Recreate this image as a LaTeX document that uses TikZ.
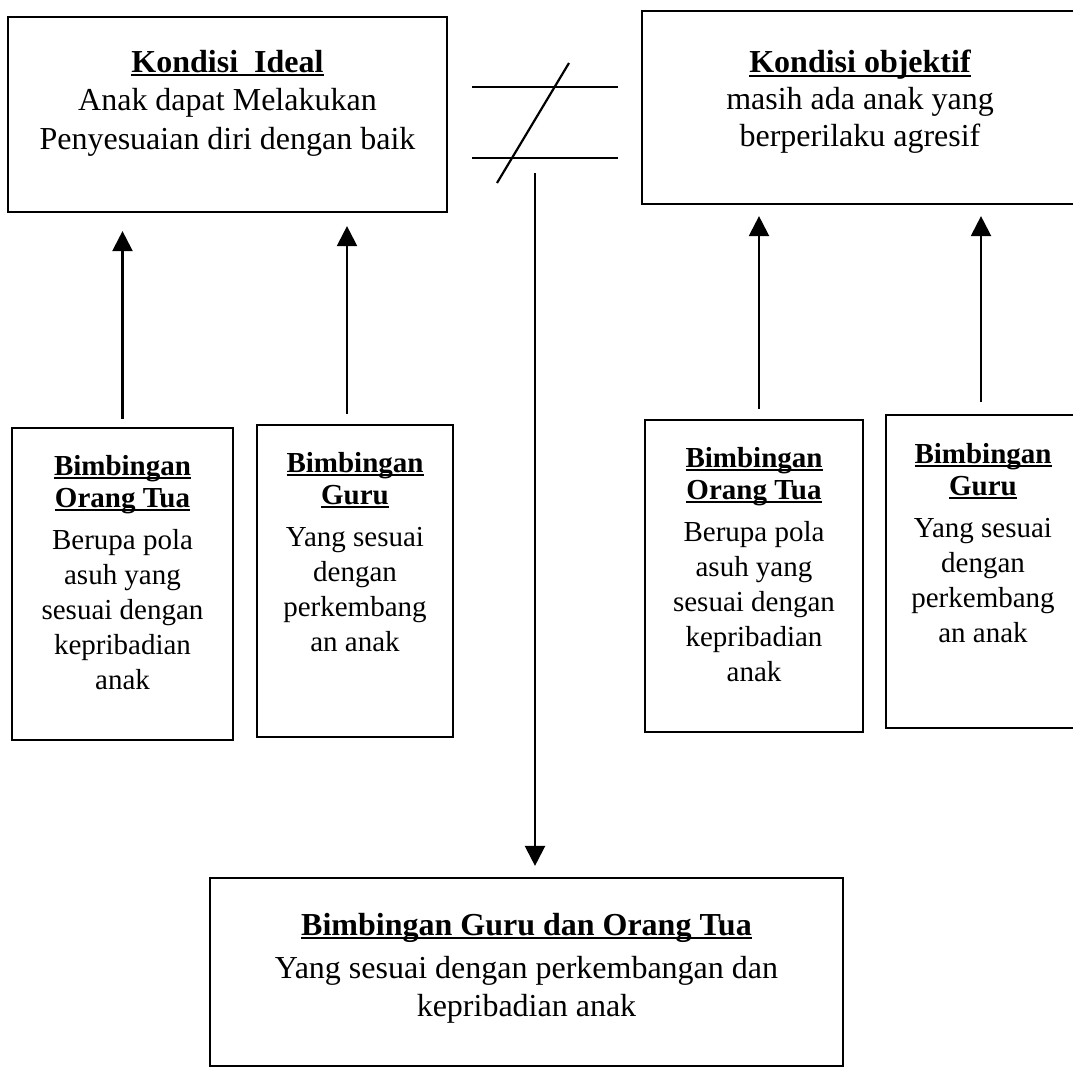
\documentclass[tikz,border=0pt]{standalone}
\usepackage{fontspec}
\setmainfont{Liberation Serif}
\usetikzlibrary{arrows.meta,calc}
\newcommand\myul[1]{\leavevmode\setbox0=\hbox{#1}\rlap{\rule[-0.13em]{\wd0}{0.065em}}\box0}
\begin{document}
\begin{tikzpicture}[x=1pt,y=-1pt,
  bx/.style={draw, line width=2.2pt, inner sep=0pt},
  bigtxt/.style={inner sep=0pt, align=center, anchor=north, font=\fontsize{32}{38.5}\selectfont},
  smalltxt/.style={inner sep=0pt, align=center, anchor=north, font=\fontsize{29}{35}\selectfont},
  arr/.style={line width=2.3pt, -{Triangle[length=20pt,width=20pt]}},
  ln/.style={line width=2.2pt}]
\useasboundingbox (0,0) rectangle (1073,1068);
% boxes
\node[bx, minimum width=439pt, minimum height=195pt] (b1) at (227.5,114.5) {};
\node[bx, minimum width=436pt, minimum height=193pt] (b2) at (860,107.5) {};
\node[bx, minimum width=221pt, minimum height=312pt] (L1) at (122.5,584) {};
\node[bx, minimum width=196pt, minimum height=312pt] (L2) at (355,581) {};
\node[bx, minimum width=218pt, minimum height=312pt] (R1) at (754,576) {};
\node[bx, minimum width=194pt, minimum height=313pt] (R2) at (983,571.5) {};
\node[bx, minimum width=633pt, minimum height=188pt] (bot) at (526.5,972) {};
% texts
\node[bigtxt] (b1t) at ($(b1.north)+(0,34)$) {\textbf{\myul{Kondisi\ \ Ideal}}\\Anak dapat Melakukan\\Penyesuaian diri dengan baik};
\node[bigtxt, font=\fontsize{32}{37}\selectfont] (b2t) at ($(b2.north)+(0,40)$) {\textbf{\myul{Kondisi objektif}}\\masih ada anak yang\\berperilaku agresif};
\node[smalltxt] (L1t) at ($(L1.north)+(0,28)$) {\textbf{\myul{Bimbingan}}\\[-3pt]\textbf{\myul{Orang Tua}}\\[7pt]Berupa pola\\asuh yang\\sesuai dengan\\kepribadian\\anak};
\node[smalltxt] (L2t) at ($(L2.north)+(0,28)$) {\textbf{\myul{Bimbingan}}\\[-3pt]\textbf{\myul{Guru}}\\[7pt]Yang sesuai\\dengan\\perkembang\\an anak};
\node[smalltxt] (R1t) at ($(R1.north)+(0,28)$) {\textbf{\myul{Bimbingan}}\\[-3pt]\textbf{\myul{Orang Tua}}\\[7pt]Berupa pola\\asuh yang\\sesuai dengan\\kepribadian\\anak};
\node[smalltxt] (R2t) at ($(R2.north)+(0,29)$) {\textbf{\myul{Bimbingan}}\\[-3pt]\textbf{\myul{Guru}}\\[7pt]Yang sesuai\\dengan\\perkembang\\an anak};
\node[bigtxt, font=\fontsize{32}{38}\selectfont] (bott) at ($(bot.north)+(0,36)$) {\textbf{\myul{Bimbingan Guru dan Orang Tua}}\\[5pt]Yang sesuai dengan perkembangan dan\\kepribadian anak};
% not-equal sign
\coordinate (nea) at (472,87);
\coordinate (neb) at (618,87);
\coordinate (nec) at (472,158);
\coordinate (ned) at (618,158);
\coordinate (nes) at (569,63);
\coordinate (nee) at (497,183);
\draw[ln] (nea) -- (neb);
\draw[ln] (nec) -- (ned);
\draw[ln] (nes) -- (nee);
% arrows
\draw[arr] ($(L1.north)+(0,-8)$) -- ($(L1.north|-b1.south)+(0,18)$);
\draw[arr] ($(L2.north)+(-8,-10)$) -- ($(L2.north|-b1.south)+(-8,13)$);
\draw[arr] ($(R1.north)+(5,-10)$) -- ($(R1.north|-b2.south)+(5,11)$);
\draw[arr] ($(R2.north)+(-2,-12)$) -- ($(R2.north|-b2.south)+(-2,11)$);
\coordinate (ne) at (535,173);
\draw[arr] (ne) -- ($(ne|-bot.north)+(0,-11)$);
\end{tikzpicture}
\end{document}
